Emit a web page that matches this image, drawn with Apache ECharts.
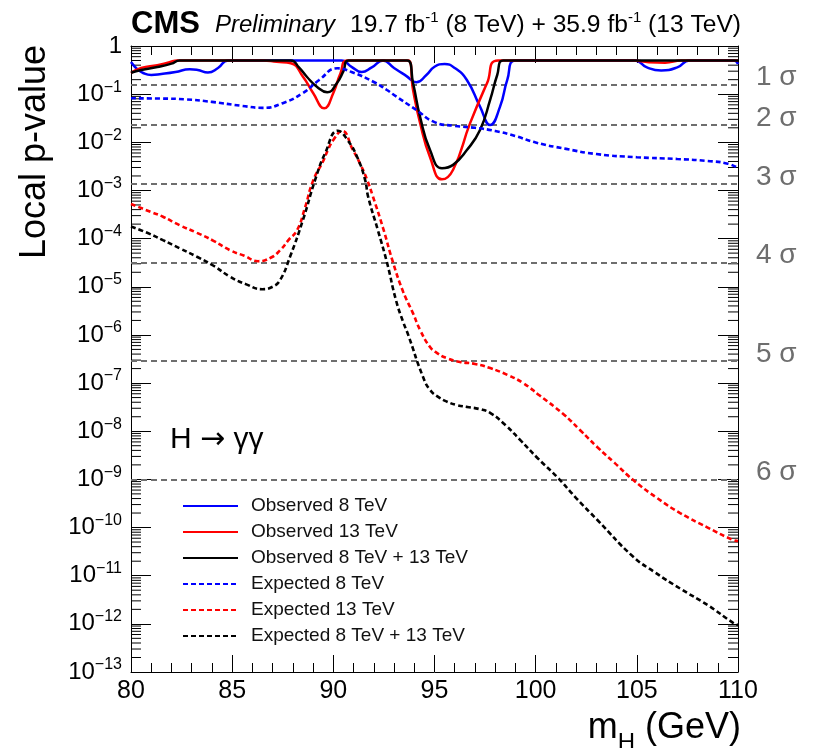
<!DOCTYPE html>
<html>
<head>
<meta charset="utf-8">
<script src="https://cdn.jsdelivr.net/npm/echarts@6/dist/echarts.min.js"></script>
<style>
  html, body { margin: 0; padding: 0; background: #ffffff; }
  #chart { width: 826px; height: 748px; }
</style>
</head>
<body>
<div id="chart"></div>
<script>
// Local p-value versus Higgs mass hypothesis, H -> gamma gamma search

// mass range (GeV) and axis ticks
const massMin = 80;
const massMax = 110;
const massTickStep = 5;
const pMin = 1e-13;
const pMax = 1;

// observed local p-values [m_H, p]
const observed8 = [
  [80.0, 0.465], [80.3, 0.333], [80.6, 0.275], [81.0, 0.25], [81.5, 0.262],
  [82.2, 0.288], [82.9, 0.33], [83.3, 0.317], [83.8, 0.281], [84.3, 0.349],
  [84.8, 0.5], [90.4, 0.5], [90.9, 0.37], [91.4, 0.288], [91.9, 0.36],
  [92.45, 0.5], [93.0, 0.35], [93.6, 0.24], [94.1, 0.176], [94.6, 0.25],
  [95.0, 0.37], [95.5, 0.423], [96.0, 0.35], [96.6, 0.197], [97.25, 0.055],
  [97.75, 0.0229], [98.24, 0.055], [98.6, 0.2], [99.0, 0.5], [104.9, 0.5],
  [105.5, 0.36], [106.2, 0.31], [107.0, 0.36], [107.6, 0.5], [109.8, 0.5],
  [110.0, 0.42]
];
const observed13 = [
  [80.0, 0.275], [80.5, 0.35], [81.3, 0.4], [81.9, 0.46], [82.3, 0.5],
  [86.5, 0.5], [87.2, 0.47], [87.9, 0.44], [88.5, 0.23], [89.0, 0.106],
  [89.55, 0.0508], [90.0, 0.106], [90.35, 0.27], [90.7, 0.5], [93.7, 0.5],
  [93.94, 0.122], [94.29, 0.025], [94.78, 0.0049], [95.37, 0.0017],
  [95.92, 0.0027], [96.76, 0.025], [97.6, 0.17], [98.14, 0.5], [104.8, 0.5],
  [105.6, 0.46], [106.4, 0.45], [107.2, 0.5], [110.0, 0.5]
];
const observedComb = [
  [80.0, 0.279], [80.5, 0.317], [81.3, 0.366], [82.0, 0.43], [82.4, 0.5],
  [87.9, 0.5], [88.3, 0.36], [88.7, 0.227], [89.2, 0.141], [89.7, 0.109],
  [90.18, 0.17], [90.5, 0.3], [90.75, 0.5], [93.65, 0.5], [93.94, 0.17],
  [94.29, 0.0335], [94.78, 0.0069], [95.37, 0.0029], [95.92, 0.0034],
  [96.6, 0.0069], [97.25, 0.018], [97.75, 0.0757], [98.1, 0.25], [98.4, 0.5],
  [110.0, 0.5]
];

// expected local p-values [m_H, p]
const expected8 = [
  [80.0, 0.082], [81.5, 0.081], [82.7, 0.078], [84.0, 0.069], [85.5, 0.057],
  [86.5, 0.052], [87.5, 0.065], [88.5, 0.106], [89.3, 0.197], [90.2, 0.344],
  [90.9, 0.288], [92.0, 0.179], [92.65, 0.122], [93.0, 0.096], [94.1, 0.047],
  [95.0, 0.0263], [96.0, 0.0219], [97.0, 0.020], [98.0, 0.0172], [99.0, 0.0135],
  [100.0, 0.0099], [101.5, 0.0073], [103.0, 0.0057], [105.0, 0.0049],
  [107.0, 0.0045], [108.5, 0.0041], [109.5, 0.0036], [110.0, 0.0029]
];
const expected13 = [
  [80.0, 5.25e-4], [81.0, 3.55e-4], [81.58, 2.85e-4], [82.4, 1.9e-4],
  [83.26, 1.32e-4], [84.1, 8.9e-5], [84.89, 5.75e-5], [85.6, 4.4e-5],
  [86.28, 3.4e-5], [86.9, 4.0e-5], [87.37, 5.75e-5], [87.8, 9.5e-5],
  [88.21, 1.5e-4], [88.6, 4.4e-4], [89.0, 1.6e-3], [89.5, 4.1e-3],
  [89.73, 6.9e-3], [90.0, 1.12e-2], [90.43, 1.72e-2], [90.97, 6.9e-3],
  [91.35, 3.4e-3], [91.67, 1.66e-3], [91.96, 7.4e-4], [92.45, 1.7e-4],
  [92.95, 3.2e-5], [93.45, 7.9e-6], [93.94, 2.8e-6], [94.29, 1.26e-6],
  [94.78, 5.6e-7], [95.13, 4.2e-7], [95.6, 3.3e-7], [96.26, 2.75e-7],
  [97.0, 2.5e-7], [97.75, 2.05e-7], [98.6, 1.48e-7], [99.38, 1.0e-7],
  [100.2, 5.5e-8], [101.35, 2.3e-8], [102.2, 1.05e-8], [103.04, 4.7e-9],
  [103.9, 2.2e-9], [104.81, 9.8e-10], [106.0, 4.1e-10], [107.14, 2.0e-10],
  [108.5, 1.0e-10], [109.76, 5.5e-11], [110.0, 5.25e-11]
];
const expectedComb = [
  [80.0, 1.78e-4], [80.8, 1.32e-4], [81.58, 9.3e-5], [82.4, 6.3e-5],
  [83.26, 4.2e-5], [84.1, 2.7e-5], [84.89, 1.62e-5], [85.7, 1.12e-5],
  [86.48, 8.9e-6], [87.0, 1.0e-5], [87.37, 1.38e-5], [87.86, 4.2e-5],
  [88.5, 2.45e-4], [89.1, 1.66e-3], [89.6, 6.0e-3], [90.23, 1.74e-2],
  [90.7, 1.12e-2], [91.2, 4.7e-3], [91.57, 1.66e-3], [91.72, 7.4e-4],
  [92.2, 1.5e-4], [92.65, 3.2e-5], [93.1, 5.2e-6], [93.45, 1.86e-6],
  [93.7, 1.0e-6], [94.43, 1.35e-7], [94.78, 7.2e-8], [95.2, 5.1e-8],
  [95.62, 4.1e-8], [96.1, 3.5e-8], [96.61, 3.2e-8], [97.2, 2.9e-8],
  [97.75, 2.4e-8], [98.5, 1.35e-8], [99.23, 6.6e-9], [100.1, 2.75e-9],
  [101.06, 1.12e-9], [102.0, 4.1e-10], [103.04, 1.45e-10], [104.81, 2.5e-11],
  [105.9, 1.17e-11], [107.14, 5.4e-12], [108.5, 2.45e-12], [109.76, 1.05e-12],
  [110.0, 9.5e-13]
];

// significance reference levels (one-sided local p-values)
const sigmaLabels = ['1 σ', '2 σ', '3 σ', '4 σ', '5 σ', '6 σ'];
const sigmaPValues = [0.1587, 0.02275, 1.35e-3, 3.167e-5, 2.867e-7, 9.866e-10];

const seriesNames = [
  'Observed 8 TeV', 'Observed 13 TeV', 'Observed 8 TeV + 13 TeV',
  'Expected 8 TeV', 'Expected 13 TeV', 'Expected 8 TeV + 13 TeV'
];

const FONT = '"Liberation Sans", Arial, Helvetica, sans-serif';

// minor log ticks: 2..9 x 10^k inside every decade
const minorLogTicks = [];
for (let k = -13; k < 0; k++) {
  for (let d = 2; d <= 9; d++) minorLogTicks.push([massMin, d * Math.pow(10, k)]);
}

function yLabel(v) {
  const e = Math.round(Math.log10(v));
  if (e === 0) return '{b|1}';
  return '{b|10}{s|\u2212' + (-e) + '}';
}

function curve(name, data, color, dashed) {
  return {
    name: name,
    type: 'line',
    data: data,
    smooth: 0.5,
    symbol: 'none',
    showSymbol: false,
    clip: true,
    z: 5,
    lineStyle: { color: color, width: dashed ? 2.6 : 2.5, type: dashed ? [5, 3] : 'solid' },
    itemStyle: { color: color }
  };
}

const chart = echarts.init(document.getElementById('chart'), null, { renderer: 'canvas' });

const xAxisBase = {
  type: 'value',
  min: massMin,
  max: massMax,
  interval: massTickStep,
  splitLine: { show: false },
  axisLine: { show: true, onZero: false, lineStyle: { color: '#000', width: 1 } },
  axisTick: { show: true, inside: true, length: 17, lineStyle: { color: '#000', width: 1 } },
  minorTick: { show: true, splitNumber: 5, length: 9, lineStyle: { color: '#000', width: 1 } },
  minorSplitLine: { show: false }
};

const yAxisBase = {
  type: 'log',
  logBase: 10,
  min: pMin,
  max: pMax,
  interval: 1,
  splitNumber: 13,
  splitLine: { show: false },
  axisLine: { show: true, onZero: false, lineStyle: { color: '#000', width: 1 } },
  axisTick: { show: true, inside: true, length: 20, lineStyle: { color: '#000', width: 1 } },
  minorTick: { show: false }
};

const option = {
  animation: false,
  backgroundColor: '#ffffff',
  grid: { left: 131, top: 46, width: 607, height: 626, containLabel: false },
  xAxis: [
    Object.assign({}, xAxisBase, {
      position: 'bottom',
      axisLabel: { show: true, margin: 7, fontSize: 25, color: '#000', fontFamily: FONT }
    }),
    Object.assign({}, xAxisBase, { position: 'top', axisLabel: { show: false } })
  ],
  yAxis: [
    Object.assign({}, yAxisBase, {
      position: 'left',
      axisLabel: {
        show: true,
        margin: 9,
        formatter: yLabel,
        rich: {
          b: { fontSize: 24, lineHeight: 30, color: '#000', fontFamily: FONT },
          s: { fontSize: 16, lineHeight: 16, verticalAlign: 'top', color: '#000', fontFamily: FONT }
        }
      }
    }),
    Object.assign({}, yAxisBase, { position: 'right', axisLabel: { show: false } })
  ],
  legend: {
    orient: 'vertical',
    left: 177,
    top: 491,
    itemWidth: 55,
    itemHeight: 20,
    itemGap: 6,
    data: seriesNames,
    selectedMode: false,
    itemStyle: { opacity: 0 },
    textStyle: { fontSize: 19, lineHeight: 20, color: '#111', fontFamily: FONT, padding: [0, 0, 0, 8] }
  },
  series: [
    curve(seriesNames[0], observed8, '#0000ff', false),
    curve(seriesNames[1], observed13, '#ff0000', false),
    curve(seriesNames[2], observedComb, '#000000', false),
    curve(seriesNames[3], expected8, '#0000ff', true),
    curve(seriesNames[4], expected13, '#ff0000', true),
    curve(seriesNames[5], expectedComb, '#000000', true),
    {
      name: 'sigma',
      type: 'line',
      data: [],
      symbol: 'none',
      z: 4,
      markLine: {
        silent: true,
        precision: 15,
        symbol: ['none', 'none'],
        animation: false,
        lineStyle: { color: '#6e6e6e', width: 2, type: [6, 4] },
        label: {
          show: true,
          position: 'end',
          distance: 18,
          offset: [0, -7],
          color: '#6e6e6e',
          fontSize: 28,
          fontFamily: FONT
        },
        emphasis: { disabled: true },
        data: sigmaPValues.map((p, i) => ({ yAxis: p, label: { formatter: sigmaLabels[i] } }))
      }
    },
    {
      name: 'minor ticks',
      type: 'custom',
      silent: true,
      z: 2,
      data: minorLogTicks,
      encode: { x: 0, y: 1 },
      renderItem: function (params, api) {
        const v = api.value(1);
        const left = api.coord([massMin, v]);
        const right = api.coord([massMax, v]);
        const st = { stroke: '#000', lineWidth: 1 };
        return {
          type: 'group',
          children: [
            { type: 'line', shape: { x1: left[0], y1: left[1], x2: left[0] + 10, y2: left[1] }, style: st },
            { type: 'line', shape: { x1: right[0] - 10, y1: right[1], x2: right[0], y2: right[1] }, style: st }
          ]
        };
      }
    }
  ],
  graphic: [
    {
      type: 'text', left: 131, top: 9,
      style: { text: 'CMS', font: 'bold 31px ' + FONT, fill: '#000' }
    },
    {
      type: 'text', left: 215, top: 13,
      style: { text: 'Preliminary', font: 'italic 24px ' + FONT, fill: '#000' }
    },
    {
      type: 'text', left: 350, top: 10,
      style: {
        text: '{n|19.7 fb}{s|-1}{n| (8 TeV) + 35.9 fb}{s|-1}{n| (13 TeV)}',
        rich: {
          n: { fontSize: 24.6, lineHeight: 30, fontFamily: FONT, fill: '#000' },
          s: { fontSize: 15, lineHeight: 15, verticalAlign: 'top', fontFamily: FONT, fill: '#000' }
        }
      }
    },
    {
      type: 'text', x: 35, y: 152, rotation: Math.PI / 2,
      style: { text: 'Local p-value', font: '36px ' + FONT, fill: '#000', align: 'center', verticalAlign: 'middle' }
    },
    {
      type: 'text', x: 741, y: 728,
      style: {
        text: '{m|m}{h|H}{m| (GeV)}',
        align: 'right',
        verticalAlign: 'middle',
        rich: {
          m: { fontSize: 36, lineHeight: 36, verticalAlign: 'top', fontFamily: FONT, fill: '#000' },
          h: { fontSize: 24, lineHeight: 24, verticalAlign: 'top', padding: [21, 0, 0, 0], fontFamily: FONT, fill: '#000' }
        }
      }
    },
    {
      type: 'text', x: 170, y: 440,
      style: {
        text: '{t|H }{a|\u2192}{t| \u03b3\u03b3}',
        verticalAlign: 'middle',
        rich: {
          t: { fontSize: 30, fontFamily: FONT, fill: '#000' },
          a: { fontSize: 30, fontFamily: '"DejaVu Sans", sans-serif', fill: '#000' }
        }
      }
    }
  ]
};

chart.setOption(option);
</script>
</body>
</html>
